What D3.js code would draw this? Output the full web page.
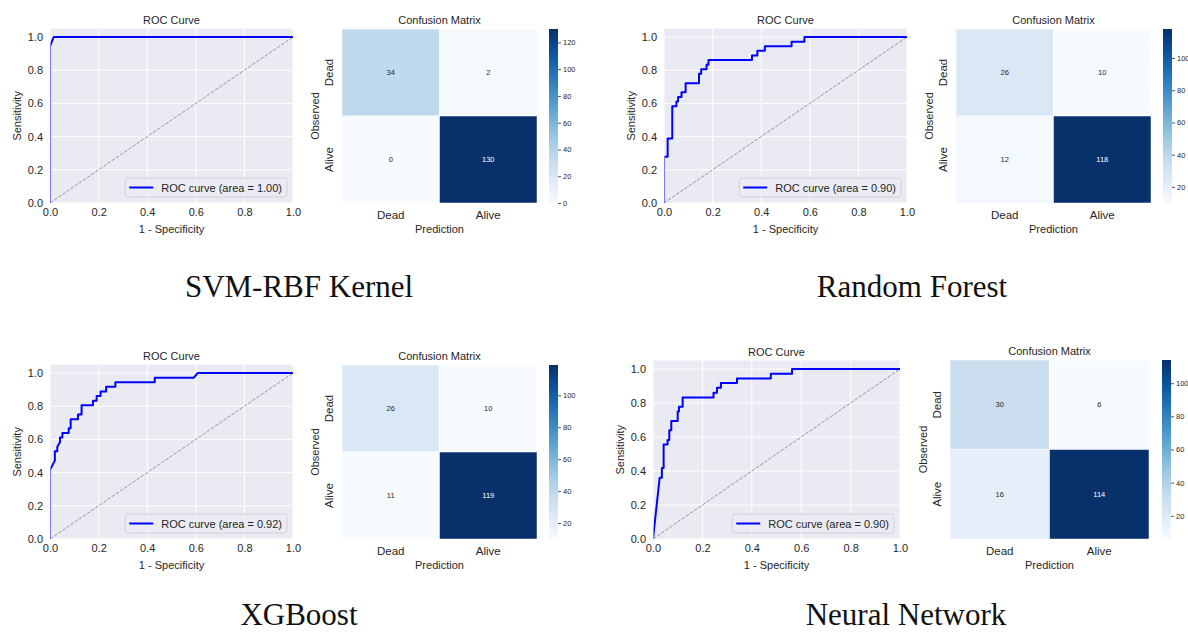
<!DOCTYPE html>
<meta charset="utf-8">
<head>
<style>
html, body {margin:0px; padding:0px; background:white;}
svg text {font-family: "Liberation Sans", Arial, sans-serif; fill:#262626;}
.caption {font-family: "Liberation Serif", "Times New Roman", serif !important; fill:#111 !important;}
</style>
</head>
<script src="https://d3js.org/d3.v7.min.js"></script>

<div id="my_dataviz"></div>

<script>

// model names and AUC shown in legends
var models = ["SVM-RBF Kernel", "Random Forest", "XGBoost", "Neural Network"];
var aucs = [1.00, 0.90, 0.92, 0.90];
var classes = ["Dead", "Alive"];
var rocTicks = [0, 0.2, 0.4, 0.6, 0.8, 1.0];

// ROC points
var svmFpr = [0, 0, 0.015, 1];
var svmTpr = [0, 0.944, 1, 1];

var rfFpr = [0, 0, 0.015, 0.015, 0.034, 0.034, 0.051, 0.051, 0.058, 0.058, 0.072, 0.072, 0.089, 0.089, 0.144, 0.144, 0.153, 0.153, 0.175, 0.175, 0.183, 0.183, 0.362, 0.362, 0.384, 0.384, 0.415, 0.415, 0.525, 0.525, 0.578, 0.578, 1];
var rfTpr = [0, 0.278, 0.278, 0.389, 0.389, 0.583, 0.583, 0.611, 0.611, 0.639, 0.639, 0.667, 0.667, 0.722, 0.722, 0.778, 0.778, 0.806, 0.806, 0.833, 0.833, 0.861, 0.861, 0.889, 0.889, 0.917, 0.917, 0.944, 0.944, 0.972, 0.972, 1, 1];

var xgbFpr = [0, 0, 0.02, 0.02, 0.03, 0.03, 0.041, 0.041, 0.051, 0.051, 0.077, 0.077, 0.085, 0.085, 0.115, 0.115, 0.13, 0.13, 0.177, 0.177, 0.192, 0.192, 0.208, 0.208, 0.231, 0.231, 0.269, 0.269, 0.431, 0.431, 0.592, 0.608, 1];
var xgbTpr = [0, 0.417, 0.472, 0.528, 0.528, 0.556, 0.583, 0.611, 0.611, 0.639, 0.639, 0.667, 0.667, 0.722, 0.722, 0.75, 0.75, 0.806, 0.806, 0.833, 0.833, 0.861, 0.861, 0.889, 0.889, 0.917, 0.917, 0.944, 0.944, 0.972, 0.972, 1, 1];

var nnFpr = [0, 0.027, 0.036, 0.036, 0.043, 0.043, 0.059, 0.059, 0.066, 0.066, 0.074, 0.074, 0.1, 0.1, 0.105, 0.105, 0.12, 0.12, 0.245, 0.245, 0.259, 0.259, 0.275, 0.275, 0.34, 0.34, 0.477, 0.477, 0.563, 0.563, 1];
var nnTpr = [0, 0.361, 0.361, 0.417, 0.417, 0.556, 0.556, 0.583, 0.583, 0.639, 0.639, 0.694, 0.694, 0.75, 0.75, 0.778, 0.778, 0.833, 0.833, 0.861, 0.861, 0.889, 0.889, 0.917, 0.917, 0.944, 0.944, 0.972, 0.972, 1, 1];

// confusion matrices, rows = observed, cols = prediction
var svmCm = [[34, 2], [0, 130]];
var rfCm = [[26, 10], [12, 118]];
var xgbCm = [[26, 10], [11, 119]];
var nnCm = [[30, 6], [16, 114]];

var rocs = [[svmFpr, svmTpr], [rfFpr, rfTpr], [xgbFpr, xgbTpr], [nnFpr, nnTpr]];
var cms = [svmCm, rfCm, xgbCm, nnCm];

// pixel layout of each panel
var layout = [
  {roc: {x0: 50, x1: 293, y0: 203, y1: 37}, cm: {x0: 342, x1: 537, y0: 29, y1: 203, cb: 549}, cap: {x: 299, y: 297}},
  {roc: {x0: 664, x1: 907, y0: 203, y1: 37}, cm: {x0: 956, x1: 1151, y0: 29, y1: 203, cb: 1163}, cap: {x: 912, y: 297}},
  {roc: {x0: 50, x1: 293, y0: 539, y1: 373}, cm: {x0: 342, x1: 537, y0: 365, y1: 539, cb: 549}, cap: {x: 299, y: 625}},
  {roc: {x0: 653, x1: 900, y0: 539, y1: 369}, cm: {x0: 950, x1: 1149, y0: 360, y1: 539, cb: 1162}, cap: {x: 906, y: 625}}
];

var W = 1188, H = 633;
var svg = d3.select("#my_dataviz")
  .append("svg")
    .attr("width", W)
    .attr("height", H);
var defs = svg.append("defs");

models.forEach(function(name, i) {
  var L = layout[i];
  drawRoc(i, L.roc);
  drawCm(i, L.cm);
  svg.append("text")
    .attr("class", "caption")
    .attr("x", L.cap.x)
    .attr("y", L.cap.y)
    .attr("text-anchor", "middle")
    .style("font-size", "31px")
    .text(name);
});

function drawRoc(i, b) {
  var x = d3.scaleLinear().domain([0, 1]).range([b.x0, b.x1]);
  var y = d3.scaleLinear().domain([0, 1]).range([b.y0, b.y1]);
  var top = y(1.05);
  var g = svg.append("g");

  g.append("rect")
    .attr("x", b.x0).attr("y", top)
    .attr("width", b.x1 - b.x0).attr("height", b.y0 - top)
    .style("fill", "#eaeaf2");

  // grid
  g.selectAll(".gx").data(rocTicks).enter().append("line")
    .attr("x1", function(d) { return x(d) }).attr("x2", function(d) { return x(d) })
    .attr("y1", top).attr("y2", b.y0)
    .style("stroke", "white").style("stroke-width", 1);
  g.selectAll(".gy").data(rocTicks).enter().append("line")
    .attr("y1", function(d) { return y(d) }).attr("y2", function(d) { return y(d) })
    .attr("x1", b.x0).attr("x2", b.x1)
    .style("stroke", "white").style("stroke-width", 1);

  // axes
  var ax = g.append("g")
    .attr("transform", "translate(0," + b.y0 + ")")
    .call(d3.axisBottom(x).tickValues(rocTicks).tickFormat(d3.format(".1f")).tickSize(0).tickPadding(5));
  var ay = g.append("g")
    .attr("transform", "translate(" + b.x0 + ",0)")
    .call(d3.axisLeft(y).tickValues(rocTicks).tickFormat(d3.format(".1f")).tickSize(0).tickPadding(7));
  [ax, ay].forEach(function(a) {
    a.select(".domain").remove();
    a.selectAll("text").style("font-size", "11px").style("fill", "#262626").style("font-family", "Liberation Sans, Arial, sans-serif");
  });

  g.append("text")
    .attr("x", (b.x0 + b.x1) / 2).attr("y", b.y0 + 30)
    .attr("text-anchor", "middle").style("font-size", "11px")
    .text("1 - Specificity");
  g.append("text")
    .attr("transform", "translate(" + (b.x0 - 29) + "," + ((top + b.y0) / 2) + ") rotate(-90)")
    .attr("text-anchor", "middle").style("font-size", "11px")
    .text("Sensitivity");
  g.append("text")
    .attr("x", (b.x0 + b.x1) / 2).attr("y", top - 5)
    .attr("text-anchor", "middle").style("font-size", "11px")
    .text("ROC Curve");

  // clip (a little inside the left edge so the x=0 segment stays faint)
  defs.append("clipPath").attr("id", "clip" + i)
    .append("rect")
      .attr("x", b.x0 + 0.5).attr("y", top)
      .attr("width", b.x1 - b.x0).attr("height", b.y0 - top);

  var plot = g.append("g").attr("clip-path", "url(#clip" + i + ")");
  plot.append("line")
    .attr("x1", x(0)).attr("y1", y(0)).attr("x2", x(1)).attr("y2", y(1))
    .style("stroke", "#8c8c8c").style("stroke-width", 0.9)
    .style("stroke-dasharray", "3.5,1.5");

  var pts = d3.zip(rocs[i][0], rocs[i][1]);
  var line = d3.line()
    .x(function(d) { return x(d[0]) })
    .y(function(d) { return y(d[1]) });
  plot.append("path")
    .datum(pts)
    .attr("d", line)
    .style("fill", "none")
    .style("stroke", "blue")
    .style("stroke-width", 2)
    .style("stroke-linejoin", "round");

  // legend
  var lg = g.append("g");
  var box = lg.append("rect");
  var txt = lg.append("text")
    .style("font-size", "11px")
    .text("ROC curve (area = " + aucs[i].toFixed(2) + ")");
  var tw = txt.node().getComputedTextLength();
  var lw = tw + 41, lh = 19;
  var lx = b.x1 - 6 - lw, ly = b.y0 - 6 - lh;
  box.attr("x", lx).attr("y", ly).attr("width", lw).attr("height", lh)
    .attr("rx", 3)
    .style("fill", "#ebebf3").style("fill-opacity", 0.9)
    .style("stroke", "#cccccc").style("stroke-width", 0.8);
  lg.append("line")
    .attr("x1", lx + 4).attr("x2", lx + 28)
    .attr("y1", ly + lh / 2).attr("y2", ly + lh / 2)
    .style("stroke", "blue").style("stroke-width", 2);
  txt.attr("x", lx + 36).attr("y", ly + lh / 2 + 4);
}

function drawCm(i, b) {
  var data = cms[i];
  var flat = [];
  data.forEach(function(row, r) {
    row.forEach(function(v, c) { flat.push({r: classes[r], c: classes[c], v: v}); });
  });
  var vmin = d3.min(flat, function(d) { return d.v });
  var vmax = d3.max(flat, function(d) { return d.v });
  var color = d3.scaleSequential(d3.interpolateBlues).domain([vmin, vmax]);

  var x = d3.scaleBand().domain(classes).range([b.x0, b.x1]);
  var y = d3.scaleBand().domain(classes).range([b.y0, b.y1]);
  var g = svg.append("g");

  g.selectAll("rect.cell").data(flat).enter().append("rect")
    .attr("x", function(d) { return x(d.c) })
    .attr("y", function(d) { return y(d.r) })
    .attr("width", x.bandwidth())
    .attr("height", y.bandwidth())
    .style("fill", function(d) { return color(d.v) })
    .style("stroke", "white").style("stroke-width", 0.5);

  g.selectAll("text.ann").data(flat).enter().append("text")
    .attr("x", function(d) { return x(d.c) + x.bandwidth() / 2 })
    .attr("y", function(d) { return y(d.r) + y.bandwidth() / 2 + 2.5 })
    .attr("text-anchor", "middle")
    .style("font-size", "7.5px")
    .style("fill", function(d) {
      var c = d3.rgb(color(d.v));
      var lum = 0.2126 * c.r + 0.7152 * c.g + 0.0722 * c.b;
      return lum > 104 ? "#262626" : "white";
    })
    .text(function(d) { return d.v });

  // tick labels
  g.selectAll("text.xt").data(classes).enter().append("text")
    .attr("x", function(d) { return x(d) + x.bandwidth() / 2 })
    .attr("y", b.y1 + 16)
    .attr("text-anchor", "middle").style("font-size", "11.5px")
    .text(function(d) { return d });
  g.selectAll("text.yt").data(classes).enter().append("text")
    .attr("transform", function(d) { return "translate(" + (b.x0 - 9) + "," + (y(d) + y.bandwidth() / 2) + ") rotate(-90)" })
    .attr("text-anchor", "middle").style("font-size", "11.5px")
    .text(function(d) { return d });

  g.append("text")
    .attr("x", (b.x0 + b.x1) / 2).attr("y", b.y1 + 30)
    .attr("text-anchor", "middle").style("font-size", "11px")
    .text("Prediction");
  g.append("text")
    .attr("transform", "translate(" + (b.x0 - 23) + "," + ((b.y0 + b.y1) / 2) + ") rotate(-90)")
    .attr("text-anchor", "middle").style("font-size", "11px")
    .text("Observed");
  g.append("text")
    .attr("x", (b.x0 + b.x1) / 2).attr("y", b.y0 - 5)
    .attr("text-anchor", "middle").style("font-size", "11px")
    .text("Confusion Matrix");

  // colorbar
  var grad = defs.append("linearGradient").attr("id", "grad" + i)
    .attr("x1", "0%").attr("y1", "100%").attr("x2", "0%").attr("y2", "0%");
  d3.range(0, 1.0001, 0.05).forEach(function(t) {
    grad.append("stop").attr("offset", (t * 100) + "%").attr("stop-color", d3.interpolateBlues(t));
  });
  var cbw = 9;
  g.append("rect")
    .attr("x", b.cb).attr("y", b.y0)
    .attr("width", cbw).attr("height", b.y1 - b.y0)
    .style("fill", "url(#grad" + i + ")");
  var cs = d3.scaleLinear().domain([vmin, vmax]).range([b.y1, b.y0]);
  var ca = g.append("g")
    .attr("transform", "translate(" + (b.cb + cbw) + ",0)")
    .call(d3.axisRight(cs).ticks(6).tickSize(3).tickPadding(2));
  ca.select(".domain").remove();
  ca.selectAll("line").style("stroke", "#262626").style("stroke-width", 0.8);
  ca.selectAll("text").style("font-size", "7.5px").style("fill", "#262626").style("font-family", "Liberation Sans, Arial, sans-serif");
}

</script>
</html>
